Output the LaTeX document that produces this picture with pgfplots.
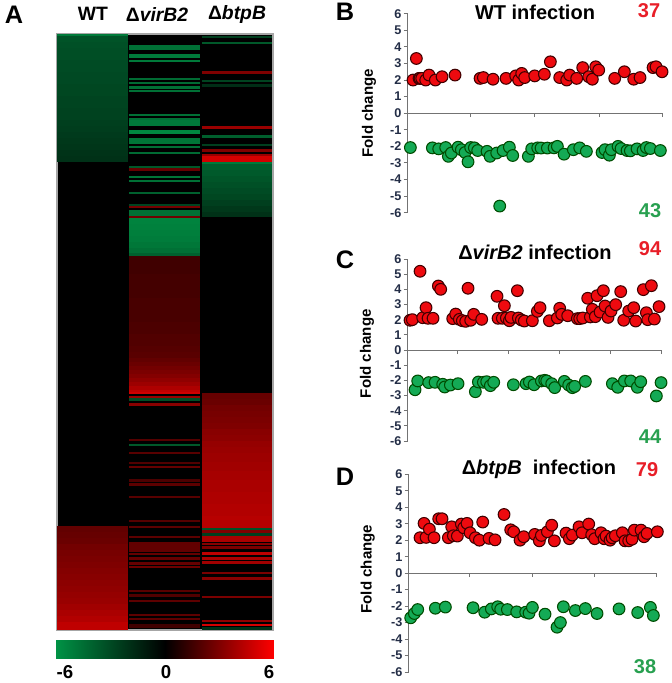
\documentclass[border=0pt]{standalone}
\usepackage{fontspec}
\setmainfont{Liberation Sans}
\usepackage{pgfplots}
\pgfplotsset{compat=1.18}
\newcommand\lab[4]{\node[font=\fontsize{#3}{#3}\selectfont\bfseries, inner sep=0pt, #4] at (#1*0.75pt,-#2*0.75pt)}
\definecolor{cntred}{RGB}{232,30,40}
\definecolor{cntgreen}{RGB}{40,160,80}
\definecolor{ptred}{RGB}{238,10,15}
\definecolor{ptgreen}{RGB}{20,170,85}
\definecolor{ticknavy}{RGB}{35,45,70}
\pgfdeclareplotmark{band}{%
  \pgfpathrectangle{\pgfpoint{-26.6pt}{-0.375pt*\hh}}{\pgfpoint{53.2pt}{0.75pt*\hh}}%
  \pgfusepathqfill}
\pgfplotsset{
  rg/.style={colormap={rg}{rgb255(0cm)=(0,146,69); rgb255(1cm)=(0,0,0); rgb255(2cm)=(255,0,0)},
    point meta min=-6, point meta max=6},
  col/.style={only marks, scatter, mark=band, point meta=\thisrow{c},
    scatter/use mapped color={fill=mapped color, draw=none},
    visualization depends on={\thisrow{b}-\thisrow{a} \as \hh}},
  fold/.style={scale only axis, ymin=-6, ymax=6, ytick={-6,-5,...,6},
    axis x line=middle, axis y line=left, axis line style={-, black!55, line width=0.7pt},
    hide obscured y ticks=false, hide obscured x ticks=false,
    tick align=outside, major tick length=3pt, tick style={black!55, line width=0.7pt},
    xticklabels={}, /pgf/number format/assume math mode=true,
    yticklabel style={font=\fontsize{9.5}{10}\selectfont\bfseries, text=ticknavy, inner sep=1.5pt},
    ylabel={Fold change},
    ylabel style={font=\fontsize{11.3}{12}\selectfont\bfseries, anchor=center}},
  up/.style={only marks, mark=*, mark size=4.4pt, mark options={fill=ptred, draw=black!75!red, line width=0.8pt}},
  down/.style={only marks, mark=*, mark size=4.4pt, mark options={fill=ptgreen, draw=black!70!green, line width=0.8pt}}
}
\begin{document}
\begin{tikzpicture}
\path (0pt,0pt) rectangle (504pt,-512.25pt);

% A: heat map, y in rows from the top of the figure
\begin{axis}[at={(42.75pt,-25.5pt)}, anchor=north west, scale only axis, width=162pt, height=447pt,
  xmin=57, xmax=273, ymin=34, ymax=630, y dir=reverse, ticks=none, rg, clip=true,
  axis background/.style={fill=black}, axis on top, axis line style={black!35, line width=0.8pt}]
\addplot[col] table[x expr=92.5, y expr=\thisrow{a}/2+\thisrow{b}/2] {
a b c
34 36 -5.0
36 42 -3.4
42 48 -3.3
48 54 -3.2
54 60 -3.2
60 66 -3.1
66 72 -3.1
72 78 -3.0
78 84 -3.0
84 90 -2.9
90 96 -2.9
96 102 -2.8
102 108 -2.8
108 114 -2.7
114 120 -2.7
120 126 -2.6
126 132 -2.5
132 138 -2.4
138 144 -2.3
144 150 -2.2
150 156 -2.1
156 162 -2.0
526 532 2.3
532 538 2.4
538 544 2.5
544 550 2.7
550 556 2.8
556 562 2.9
562 568 3.0
568 574 3.1
574 580 3.2
580 586 3.3
586 592 3.4
592 598 3.5
598 604 3.6
604 610 3.8
610 616 4.0
616 622 4.2
622 630 4.5
};
\addplot[col] table[x expr=164.5, y expr=\thisrow{a}/2+\thisrow{b}/2] {
a b c
44.5 50 -4.6
54 58 -5.0
60 62 -5.0
78 80 -4.4
82 84 -4.4
86 88.5 -4.6
90 92 -4.6
114 116 -4.6
118 120 -4.6
120 126 -5.0
130 134 -5.6
138 144 -4.8
146 148 -4.6
152 154 -4.4
166 168 -3.6
168 171 2.4
176 178 -4.8
180 182 -4.6
192 194 -4.0
204 206 -2.8
206 208 2.8
210 216 -4.6
216 218 2.6
218 224 -5.4
224 230 -5.3
230 236 -5.2
236 242 -5.1
242 248 -4.9
248 253 -4.6
253 256 -4.0
256 262 1.5
262 274 1.5
274 286 1.6
286 298 1.6
298 310 1.7
310 322 1.7
322 334 1.8
334 346 1.9
346 352 2.0
352 358 2.1
358 362 2.3
362 366 2.5
366 370 2.7
370 374 2.9
374 378 3.1
378 382 3.4
382 386 3.7
386 390 4.1
390 392 4.5
392 394 4.9
396 398 3.6
398 401 -3.2
403 406 3.2
439 440.5 2.0
444 446 -3.6
452 454 2.1
462 464 1.9
466 468 2.4
479 482 1.8
483 486 2.2
496 498 2.1
520 522 2.0
526 528 2.2
536 538 2.2
542 552 2.3
553 555 2.4
557 560 2.4
562 565 2.4
566 568 2.6
590 592 2.1
594 597 1.9
600 602 2.2
614 616 2.2
618 620 2.2
624 628 1.5
};
\addplot[col] table[x expr=237, y expr=\thisrow{a}/2+\thisrow{b}/2] {
a b c
36 38 -2.6
42 44 -3.6
71 74 3.0
80 82 -2.8
84 87 -1.9
126 129 3.6
135 138 -3.9
144 146 -2.6
149 152 3.0
154 156 3.6
156 162 5.0
162 164 -5.0
164 170 -3.9
170 176 -3.7
176 182 -3.5
182 188 -3.3
188 194 -3.1
194 200 -2.9
200 206 -2.6
206 212 -2.3
212 217 -2.0
393 399 2.4
399 405 2.5
405 411 2.7
411 417 2.8
417 423 2.9
423 429 3.0
429 435 3.2
435 441 3.3
441 447 3.5
447 453 3.6
453 462 3.7
462 471 3.8
471 480 3.9
480 492 4.0
492 504 4.1
504 516 4.2
516 528 4.3
528 530 -3.4
530 533 3.0
533 536 -2.6
536 542 4.0
543 545 3.2
546 549 2.9
552 555 4.5
557 560 4.0
561 564 3.8
572 574 2.9
577 580 3.2
596 598 2.9
620 622 3.4
624 626 5.0
627 630 -2.0
};
\end{axis}

% colour scale
\begin{axis}[at={(42pt,-493.5pt)}, anchor=south west, scale only axis, width=163.5pt, height=13.5pt,
  xmin=-6, xmax=6, ymin=0, ymax=1, ticks=none, rg, axis line style={draw=none}]
\addplot[surf, shader=interp, mesh/cols=3, point meta=x] coordinates {(-6,0)(0,0)(6,0)(-6,1)(0,1)(6,1)};
\end{axis}

% B
\begin{axis}[fold, at={(305.78pt,-159.53pt)}, anchor=south west, width=191pt, height=149.25pt,
  xmin=203, xmax=967, xtick={391,584,777,967},
  ylabel style={at={(axis description cs:-0.152,0.5)}}, clip=false]
\addplot[up] coordinates {(219,2.0)(229,3.3)(237,2.1)(240,2.1)(245,2.1)(257,2.0)(267,2.3)(286,2.0)(306,2.2)(345,2.3)(420,2.1)(430,2.15)(459,2.05)(498,2.1)(527,2.25)(536,2.0)(545,2.4)(554,2.15)(584,2.25)(613,2.35)(631,3.1)(659,2.15)(680,2.0)(689,2.3)(710,2.1)(728,2.75)(746,2.2)(757,2.05)(767,2.8)(776,2.6)(824,2.1)(853,2.5)(881,2.05)(900,2.15)(939,2.75)(948,2.8)(966,2.5)};
\addplot[down] coordinates {(211,-2.07)(277,-2.09)(296,-2.15)(317,-2.07)(325,-2.6)(334,-2.4)(354,-2.05)(364,-2.2)(375,-2.37)(384,-2.93)(392,-2.07)(403,-2.09)(413,-2.25)(441,-2.3)(450,-2.6)(470,-2.4)(479,-5.6)(489,-2.25)(508,-2.05)(518,-2.55)(565,-2.6)(575,-2.15)(593,-2.09)(603,-2.1)(622,-2.1)(642,-2.09)(652,-2.0)(672,-2.47)(700,-2.2)(719,-2.09)(739,-2.3)(786,-2.37)(795,-2.2)(808,-2.53)(814,-2.2)(834,-2.0)(843,-2.13)(861,-2.25)(871,-2.27)(891,-2.15)(909,-2.25)(919,-2.07)(931,-2.13)(961,-2.25)};
\end{axis}

% C
\begin{axis}[fold, at={(305.78pt,-330.75pt)}, anchor=south west, width=190.5pt, height=136.5pt,
  xmin=203, xmax=965, xtick={353,506,659,812,965},
  ylabel style={at={(axis description cs:-0.16,0.48)}}, clip=false]
\addplot[up] coordinates {(210,1.96)(217,2.0)(240,5.19)(248,2.13)(258,2.79)(264,2.09)(279,2.09)(295,4.22)(302,4.0)(338,2.07)(347,2.37)(358,2.02)(367,1.93)(377,1.89)(384,4.07)(392,1.96)(401,2.35)(425,2.02)(471,3.54)(474,2.09)(487,2.09)(493,2.92)(499,2.11)(508,1.93)(513,2.15)(532,3.91)(535,2.11)(544,1.98)(553,1.91)(577,1.93)(592,2.55)(600,2.79)(628,1.93)(652,2.11)(659,2.75)(665,2.35)(683,2.26)(712,2.07)(719,2.07)(728,2.11)(743,3.41)(751,2.18)(757,2.68)(766,2.2)(771,3.58)(780,2.5)(790,3.91)(795,2.9)(804,2.15)(813,2.57)(827,2.99)(842,3.85)(851,1.96)(866,2.57)(881,2.79)(887,1.91)(910,3.98)(919,2.46)(923,2.0)(934,4.24)(943,2.04)(957,2.86)};
\addplot[down] coordinates {(225,-2.62)(233,-2.04)(266,-2.15)(285,-2.13)(308,-2.26)(314,-2.44)(331,-2.31)(354,-2.22)(406,-2.75)(415,-2.11)(430,-2.13)(440,-2.09)(451,-2.35)(461,-2.13)(520,-2.29)(558,-2.22)(568,-2.11)(582,-2.29)(604,-2.04)(614,-2.0)(620,-2.04)(635,-2.22)(644,-2.48)(673,-2.07)(686,-2.31)(697,-2.48)(704,-2.4)(736,-2.07)(817,-2.22)(833,-2.46)(853,-2.04)(872,-2.04)(892,-2.46)(902,-2.09)(949,-3.03)(963,-2.15)};
\end{axis}

% D
\begin{axis}[fold, at={(306.53pt,-504pt)}, anchor=south west, width=186pt, height=148.3pt,
  xmin=206, xmax=950, xtick={389,576,763,950},
  ylabel style={at={(axis description cs:-0.165,0.52)}}, clip=false]
\addplot[up] coordinates {(240,2.15)(252,3.02)(258,2.17)(268,2.67)(282,2.15)(296,3.3)(306,3.3)(325,2.15)(335,2.81)(340,2.27)(352,2.25)(364,2.98)(371,2.75)(381,3.02)(390,2.45)(406,2.15)(418,2.0)(428,3.1)(447,2.11)(465,2.02)(492,3.56)(512,2.63)(521,2.51)(540,2.0)(551,2.21)(584,2.35)(598,1.96)(604,2.29)(622,2.51)(635,2.91)(643,1.96)(678,2.43)(688,2.09)(697,2.31)(717,2.81)(726,2.45)(746,2.98)(755,2.33)(764,2.09)(783,2.45)(792,2.09)(798,2.25)(810,2.0)(816,2.15)(826,2.27)(847,2.45)(855,1.96)(866,1.96)(876,2.06)(883,2.61)(903,2.61)(912,2.21)(921,2.41)(952,2.51)};
\addplot[down] coordinates {(212,-2.71)(223,-2.45)(233,-2.21)(286,-2.13)(316,-2.06)(399,-2.1)(434,-2.37)(454,-2.17)(473,-2.04)(482,-2.19)(502,-2.21)(530,-2.35)(557,-2.37)(567,-2.43)(577,-2.08)(615,-2.49)(651,-3.28)(661,-3.0)(670,-2.04)(706,-2.27)(736,-2.15)(771,-2.45)(837,-2.17)(893,-2.39)(931,-2.08)(940,-2.57)};
\end{axis}

% lettering
\lab{14}{15}{19}{} {A};
\lab{345}{12}{19}{} {B};
\lab{345}{260}{19}{} {C};
\lab{345}{477}{19}{} {D};
\lab{93}{14}{14.5}{} {WT};
\lab{157}{14}{14.5}{} {Δ\itshape virB2};
\lab{237}{14}{14.5}{} {Δ\itshape btpB};
\lab{535}{12}{15}{} {WT infection};
\lab{535}{252}{15}{} {Δ\textit{virB2} infection};
\lab{539}{469}{15}{} {Δ\textit{btpB}\ \ infection};
\lab{649}{11}{15}{text=cntred} {37};
\lab{650}{211}{15}{text=cntgreen} {43};
\lab{650}{249}{15}{text=cntred} {94};
\lab{650}{437}{15}{text=cntgreen} {44};
\lab{647}{470}{15}{text=cntred} {79};
\lab{645}{667}{15}{text=cntgreen} {38};
\lab{65}{672}{14}{} {-6};
\lab{166}{672}{14}{} {0};
\lab{269}{672}{14}{} {6};
\end{tikzpicture}
\end{document}
